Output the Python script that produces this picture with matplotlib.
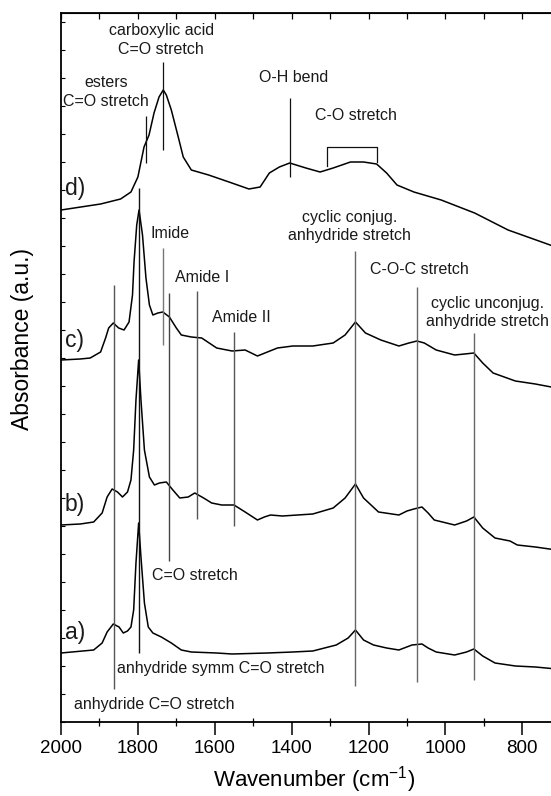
import numpy as np
import matplotlib
matplotlib.use("Agg")
import matplotlib.pyplot as plt
from matplotlib.ticker import MultipleLocator, NullFormatter

plt.rcParams['font.family'] = ['Liberation Sans', 'DejaVu Sans']
plt.rcParams['mathtext.default'] = 'regular'

# spectra (wavenumber, absorbance offset)
wn_a = [2000, 1915, 1893, 1880, 1864, 1849, 1838, 1827, 1818, 1811, 1805, 1798, 1792, 1783, 1773,
        1761, 1739, 1713, 1687, 1661, 1595, 1555, 1463, 1397, 1345, 1284, 1253, 1234, 1213, 1187,
        1153, 1121, 1087, 1061, 1045, 1024, 976, 945, 926, 903, 871, 818, 766, 711]
abs_a = [0.69, 0.72, 0.79, 0.90, 0.98, 0.95, 0.89, 0.91, 0.95, 1.12, 1.59, 1.99, 1.65, 1.19, 0.95,
         0.89, 0.85, 0.79, 0.72, 0.70, 0.69, 0.68, 0.69, 0.70, 0.71, 0.77, 0.84, 0.92, 0.82, 0.77,
         0.74, 0.72, 0.77, 0.78, 0.74, 0.70, 0.67, 0.70, 0.73, 0.66, 0.59, 0.56, 0.55, 0.53]

wn_b = [2000, 1950, 1915, 1893, 1880, 1867, 1853, 1840, 1827, 1818, 1811, 1805, 1798, 1792, 1783,
        1770, 1757, 1744, 1726, 1709, 1691, 1669, 1652, 1629, 1608, 1582, 1550, 1521, 1489, 1471,
        1455, 1424, 1345, 1292, 1261, 1234, 1213, 1174, 1121, 1100, 1082, 1061, 1045, 1029, 976,
        945, 926, 903, 871, 832, 813, 766, 711]
abs_b = [1.97, 1.98, 2.00, 2.09, 2.25, 2.33, 2.30, 2.25, 2.30, 2.42, 2.72, 3.22, 3.62, 3.22, 2.72,
         2.45, 2.37, 2.39, 2.40, 2.32, 2.24, 2.25, 2.29, 2.24, 2.19, 2.17, 2.17, 2.10, 2.02, 2.05,
         2.07, 2.06, 2.08, 2.14, 2.24, 2.38, 2.24, 2.10, 2.07, 2.11, 2.13, 2.15, 2.09, 2.02, 1.97,
         2.01, 2.05, 1.94, 1.84, 1.81, 1.77, 1.75, 1.72]

wn_c = [2000, 1950, 1924, 1897, 1884, 1876, 1864, 1850, 1836, 1823, 1814, 1810, 1803, 1797, 1788,
        1779, 1770, 1761, 1748, 1735, 1718, 1700, 1687, 1661, 1634, 1595, 1555, 1521, 1489, 1463,
        1437, 1397, 1345, 1292, 1261, 1234, 1208, 1168, 1121, 1095, 1074, 1055, 1024, 976, 950,
        926, 903, 876, 818, 766, 711]
abs_c = [3.62, 3.63, 3.64, 3.70, 3.84, 3.94, 3.99, 3.94, 3.92, 4.00, 4.27, 4.60, 4.97, 5.12, 4.87,
         4.44, 4.17, 4.07, 4.09, 4.10, 4.05, 3.94, 3.87, 3.85, 3.84, 3.74, 3.71, 3.72, 3.66, 3.70,
         3.74, 3.76, 3.76, 3.79, 3.87, 4.00, 3.89, 3.82, 3.76, 3.79, 3.81, 3.79, 3.72, 3.67, 3.68,
         3.69, 3.59, 3.49, 3.41, 3.38, 3.34]

wn_d = [2000, 1897, 1845, 1818, 1800, 1784, 1771, 1758, 1745, 1734, 1726, 1713, 1695, 1682, 1661,
        1616, 1563, 1511, 1482, 1458, 1432, 1405, 1363, 1326, 1292, 1247, 1213, 1179, 1153, 1126,
        1082, 1011, 924, 837, 713]
abs_d = [5.12, 5.18, 5.23, 5.30, 5.45, 5.75, 5.87, 6.09, 6.25, 6.32, 6.27, 6.12, 5.85, 5.65, 5.52,
         5.47, 5.40, 5.33, 5.35, 5.49, 5.55, 5.59, 5.54, 5.50, 5.54, 5.60, 5.60, 5.58, 5.49, 5.37,
         5.30, 5.22, 5.09, 4.92, 4.75]

# band marker lines: position, lower end, upper end
band_pos = [1863, 1796, 1735, 1720, 1645, 1550, 1234, 1074, 926]
band_lo = [0.33, 0.69, 3.77, 1.61, 2.03, 1.96, 0.36, 0.40, 0.42]
band_hi = [4.37, 5.34, 4.74, 4.29, 4.31, 3.90, 4.71, 4.35, 3.89]
band_col = ['#555555', '#111111', '#777777', '#444444', '#555555', '#555555', '#666666', '#666666', '#666666']

d_pos = [1734, 1779, 1405]
d_lo = [5.72, 5.59, 5.45]
d_hi = [6.60, 6.06, 6.24]

fig = plt.figure(figsize=(5.51, 7.96), dpi=100)
ax = fig.add_axes([61 / 551, 1 - 722 / 796, 1 - 61 / 551 + 0.01, 709 / 796])

for wn, ab in [(wn_a, abs_a), (wn_b, abs_b), (wn_c, abs_c), (wn_d, abs_d)]:
    ax.plot(wn, ab, color='black', lw=1.1)

for p, lo, hi, col in zip(band_pos, band_lo, band_hi, band_col):
    ax.vlines(p, lo, hi, color=col, lw=1.0)
ax.vlines(d_pos, d_lo, d_hi, color='#111111', lw=0.9)
# C-O stretch bracket
ax.plot([1308, 1308, 1179, 1179], [5.56, 5.75, 5.75, 5.60], color='#111111', lw=0.9)

fs = 11.5
tc = '#1a1a1a'
ls = 1.3
ax.text(1739, 6.82, 'carboxylic acid\nC=O stretch', ha='center', va='center', fontsize=fs, color=tc, linespacing=ls)
ax.text(1882, 6.30, 'esters\nC=O stretch', ha='center', va='center', fontsize=fs, color=tc, linespacing=ls)
ax.text(1395, 6.45, 'O-H bend', ha='center', va='center', fontsize=fs, color=tc)
ax.text(1234, 6.07, 'C-O stretch', ha='center', va='center', fontsize=fs, color=tc)
ax.text(1768, 4.89, 'Imide', ha='left', va='center', fontsize=fs, color=tc)
ax.text(1703, 4.44, 'Amide I', ha='left', va='center', fontsize=fs, color=tc)
ax.text(1608, 4.05, 'Amide II', ha='left', va='center', fontsize=fs, color=tc)
ax.text(1250, 4.955, 'cyclic conjug.\nanhydride stretch', ha='center', va='center', fontsize=fs, color=tc, linespacing=ls)
ax.text(1195, 4.52, 'C-O-C stretch', ha='left', va='center', fontsize=fs, color=tc)
ax.text(890, 4.095, 'cyclic unconjug.\nanhydride stretch', ha='center', va='center', fontsize=fs, color=tc, linespacing=ls)
ax.text(1763, 1.47, 'C=O stretch', ha='left', va='center', fontsize=fs, color=tc)
ax.text(1855, 0.54, 'anhydride symm C=O stretch', ha='left', va='center', fontsize=fs, color=tc)
ax.text(1966, 0.18, 'anhydride C=O stretch', ha='left', va='center', fontsize=fs, color=tc)

for lab, y in [('d)', 5.34), ('c)', 3.82), ('b)', 2.18), ('a)', 0.89)]:
    ax.text(1990, y, lab, ha='left', va='center', fontsize=16.5, color=tc)

ax.set_xlim(2000, 711)
ax.set_ylim(0, 7.09)

ax.xaxis.set_major_locator(MultipleLocator(200))
ax.xaxis.set_minor_locator(MultipleLocator(100))
ax.tick_params(axis='x', which='major', direction='out', length=9, width=1.1, labelsize=13.5, pad=4)
ax.tick_params(axis='x', which='minor', direction='inout', length=6, width=0.9)
ax.yaxis.set_major_locator(MultipleLocator(0.28))
ax.yaxis.set_major_formatter(NullFormatter())
ax.tick_params(axis='y', which='major', direction='in', length=3, width=0.8)

top = ax.secondary_xaxis('top')
top.xaxis.set_major_locator(MultipleLocator(100))
top.xaxis.set_major_formatter(NullFormatter())
top.tick_params(direction='in', length=4, width=0.9)

ax.spines['right'].set_visible(False)
for s in ['left', 'bottom']:
    ax.spines[s].set_linewidth(1.3)
top.spines['top'].set_linewidth(1.3)

ax.set_xlabel('Wavenumber (cm$^{-1}$)', fontsize=16)
ax.xaxis.label.set_va('center')
ax.xaxis.set_label_coords(0.51, -0.081)
ax.set_ylabel('Absorbance (a.u.)', fontsize=16.5)
ax.yaxis.label.set_va('center')
ax.yaxis.set_label_coords(-0.078, 0.54)

fig.savefig('out.png', dpi=100)
